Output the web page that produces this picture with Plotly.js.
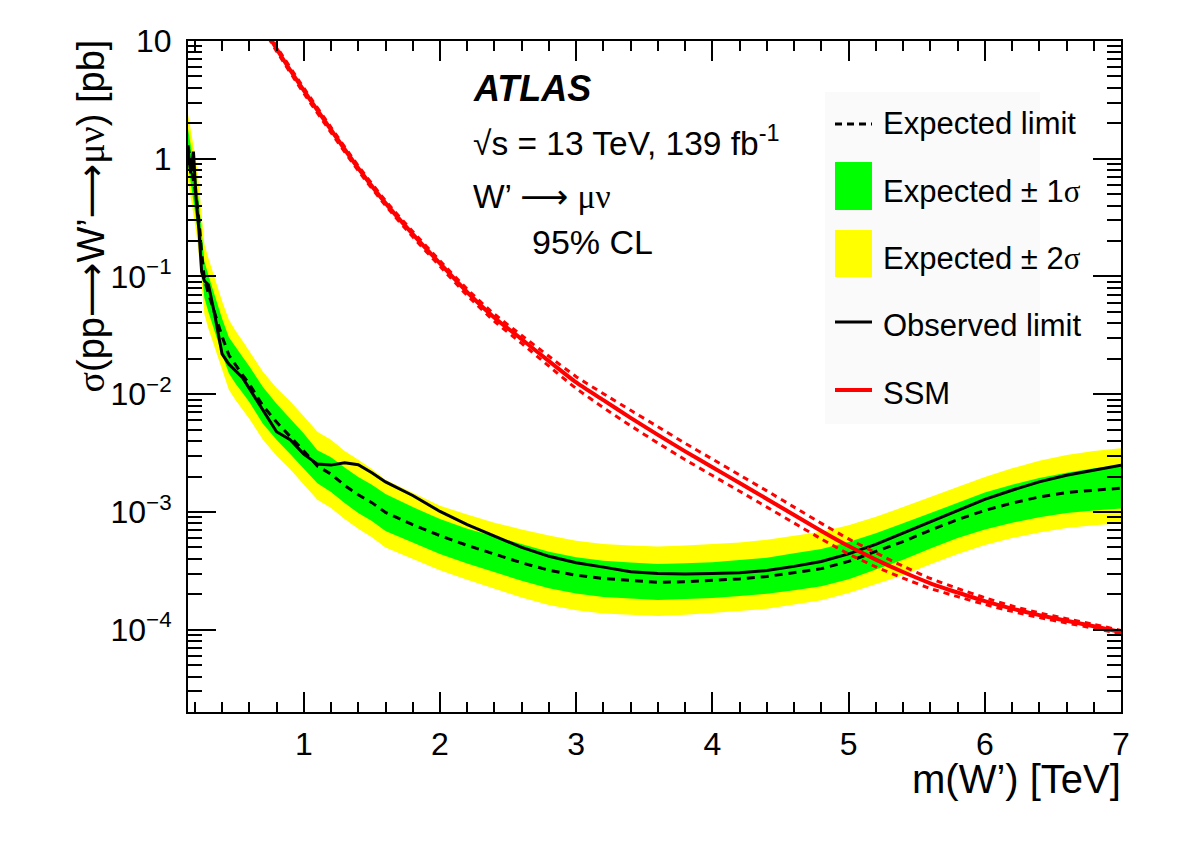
<!DOCTYPE html>
<html>
<head>
<meta charset="utf-8">
<script src="https://cdn.plot.ly/plotly-3.0.1.min.js"></script>
<style>
  html, body { margin: 0; padding: 0; background: #ffffff; }
  #chart { width: 1182px; height: 848px; }
</style>
</head>
<body>
<div id="chart"></div>
<script>
// W' -> mu nu cross-section limits, 95% CL (mass in TeV, sigma x BR in pb)
const mass = [0.15, 0.17, 0.19, 0.21, 0.23, 0.25, 0.27, 0.30, 0.35, 0.40, 0.45, 0.50, 0.55, 0.60,
  0.70, 0.80, 0.90, 1.0, 1.1, 1.2, 1.3, 1.4, 1.5, 1.6, 1.8, 2.0, 2.2, 2.4, 2.6, 2.8, 3.0, 3.2,
  3.4, 3.6, 3.8, 4.0, 4.2, 4.4, 4.6, 4.8, 5.0, 5.2, 5.4, 5.6, 5.8, 6.0, 6.2, 6.4, 6.6, 6.8, 7.0];

const expected = [1.3, 0.9, 0.65, 0.48, 0.30, 0.16, 0.095, 0.072, 0.047, 0.031, 0.0215, 0.0175, 0.0146, 0.0122,
  0.0080, 0.0058, 0.0044, 0.0033, 0.00245, 0.0021, 0.00168, 0.00140, 0.00120, 0.00099, 0.00078, 0.00063, 0.00052, 0.00044, 0.00037, 0.00032, 0.00029, 0.000272,
  0.000262, 0.000253, 0.000255, 0.000261, 0.000270, 0.000283, 0.000305, 0.00033, 0.00038, 0.00046, 0.00056, 0.00070, 0.00086, 0.00103, 0.00119, 0.00134, 0.00146, 0.00153, 0.00159];

const observed = [1.2, 0.75, 1.15, 0.45, 0.25, 0.11, 0.092, 0.085, 0.045, 0.022, 0.018, 0.0158, 0.0138, 0.0112,
  0.0073, 0.0048, 0.0041, 0.0031, 0.00255, 0.00250, 0.00262, 0.00252, 0.00215, 0.00180, 0.00138, 0.00101, 0.00078, 0.00062, 0.00050, 0.00042, 0.00037, 0.00034,
  0.00031, 0.000300, 0.000297, 0.000300, 0.000305, 0.000318, 0.000345, 0.00038, 0.00044, 0.00053, 0.00066, 0.00083, 0.00102, 0.00128, 0.00153, 0.00180, 0.00205, 0.00225, 0.00250];

const minus2Sigma = [0.65, 0.46, 0.33, 0.24, 0.15, 0.08, 0.048, 0.036, 0.024, 0.0157, 0.0109, 0.0089, 0.0074, 0.0062,
  0.0041, 0.0030, 0.0023, 0.00172, 0.00127, 0.00108, 0.00087, 0.00072, 0.00061, 0.00050, 0.00040, 0.00032, 0.000265, 0.000222, 0.000188, 0.000162, 0.000146, 0.000137,
  0.000133, 0.000131, 0.000134, 0.000138, 0.000144, 0.000151, 0.000163, 0.000178, 0.000205, 0.000245, 0.000290, 0.000360, 0.000440, 0.000525, 0.000600, 0.000670, 0.000730, 0.000770, 0.000800];

const minus1Sigma = [0.9, 0.63, 0.46, 0.33, 0.21, 0.112, 0.066, 0.050, 0.033, 0.0218, 0.0151, 0.0123, 0.0103, 0.0086,
  0.0056, 0.0041, 0.0031, 0.00235, 0.00175, 0.00148, 0.00119, 0.00098, 0.00084, 0.00069, 0.00055, 0.00044, 0.000365, 0.000308, 0.000260, 0.000225, 0.000203, 0.000190,
  0.000184, 0.000179, 0.000182, 0.000186, 0.000193, 0.000202, 0.000216, 0.000234, 0.000268, 0.000322, 0.000392, 0.000490, 0.000600, 0.000710, 0.000810, 0.000900, 0.000980, 0.00103, 0.00107];

const plus1Sigma = [1.8, 1.3, 0.93, 0.68, 0.43, 0.23, 0.135, 0.102, 0.067, 0.044, 0.0305, 0.0249, 0.0208, 0.0173,
  0.0115, 0.0083, 0.0062, 0.00465, 0.00335, 0.00292, 0.00238, 0.00198, 0.00170, 0.00142, 0.00110, 0.00087, 0.00072, 0.00062, 0.00053, 0.00046, 0.000412, 0.000385,
  0.000372, 0.000362, 0.000366, 0.000374, 0.000390, 0.000408, 0.000445, 0.000485, 0.000555, 0.00066, 0.00080, 0.00098, 0.00121, 0.00146, 0.00170, 0.00194, 0.00215, 0.00235, 0.00251];

const plus2Sigma = [2.4, 1.8, 1.3, 0.95, 0.60, 0.32, 0.19, 0.143, 0.094, 0.062, 0.043, 0.0345, 0.0285, 0.0232,
  0.0155, 0.0113, 0.0087, 0.0065, 0.0048, 0.0041, 0.0033, 0.00278, 0.00232, 0.00188, 0.00145, 0.00113, 0.00095, 0.00081, 0.00071, 0.00063, 0.00057, 0.000535,
  0.000520, 0.000510, 0.000518, 0.000530, 0.000550, 0.000580, 0.000625, 0.00068, 0.00077, 0.00091, 0.00110, 0.00134, 0.00164, 0.00198, 0.00235, 0.00272, 0.00305, 0.00330, 0.00347];

// Sequential Standard Model W' prediction with its theory uncertainty
const ssmMass = [0.7, 0.8, 1.0, 1.2, 1.4, 1.6, 1.8, 2.0, 2.2, 2.4, 2.6, 2.8, 3.0, 3.2, 3.4, 3.6, 3.8,
  4.0, 4.2, 4.4, 4.6, 4.8, 5.0, 5.2, 5.4, 5.6, 5.8, 6.0, 6.2, 6.4, 6.6, 6.8, 7.0];
const ssmXsec = [13.5, 8.6, 3.8, 1.76, 0.83, 0.42, 0.229, 0.129, 0.0735, 0.0447, 0.0293, 0.0191, 0.0126, 0.0089, 0.0063, 0.00452, 0.00327,
  0.0024, 0.00176, 0.00129, 0.000944, 0.00069, 0.000513, 0.000394, 0.000309, 0.000248, 0.000207, 0.000175, 0.000151, 0.000133, 0.000119, 0.000107, 0.0000955];
const ssmUp = [14.2, 9.0, 4.0, 1.85, 0.87, 0.44, 0.241, 0.136, 0.078, 0.0478, 0.0316, 0.0210, 0.0141, 0.0101, 0.0073, 0.00529, 0.00383,
  0.00281, 0.00206, 0.00151, 0.00110, 0.00080, 0.000590, 0.000450, 0.000346, 0.000273, 0.000224, 0.000187, 0.000159, 0.000139, 0.000124, 0.000111, 0.0000985];
const ssmDown = [12.8, 8.2, 3.6, 1.67, 0.79, 0.40, 0.217, 0.122, 0.069, 0.0416, 0.0270, 0.0173, 0.0112, 0.0077, 0.0054, 0.00385, 0.00278,
  0.00204, 0.00150, 0.00110, 0.000805, 0.000590, 0.000440, 0.000342, 0.000274, 0.000224, 0.000191, 0.000164, 0.000143, 0.000127, 0.000114, 0.000103, 0.0000925];

// Axis ticks
const xTickVals = [1, 2, 3, 4, 5, 6, 7];
const xTickText = ['1', '2', '3', '4', '5', '6', '7'];
const yTickVals = [1e-4, 1e-3, 1e-2, 1e-1, 1, 10];
const yTickText = ['10<sup>\u22124</sup>', '10<sup>\u22123</sup>', '10<sup>\u22122</sup>', '10<sup>\u22121</sup>', '1', '10'];
const yMinorMantissa = [2, 3, 4, 5, 6, 7, 8, 9];
const yMinorDecades = [1e-5, 1e-4, 1e-3, 1e-2, 1e-1, 1];

const yMinorVals = [];
yMinorDecades.forEach(d => yMinorMantissa.forEach(m => yMinorVals.push(m * d)));

const FONT = 'Liberation Sans, Arial, Helvetica, sans-serif';
const YELLOW = '#ffff00';
const GREEN = '#00ff00';
const RED = '#ff0000';

// Greek letters and arrows set in symbol-like faces
const greek = s => '<span style="font-family:Liberation Serif">' + s + '</span>';
const arrow = '<span style="font-family:DejaVu Sans">\u27f6</span>';

// Page and frame geometry (pixels)
const W = 1182, H = 848;
const M = { l: 188, r: 61, t: 41, b: 136 };
const PW = W - M.l - M.r, PH = H - M.t - M.b;
const px = x => (x - M.l) / PW;
const py = y => (H - M.b - y) / PH;

const traces = [
  { x: mass, y: minus2Sigma, type: 'scatter', mode: 'lines', line: { width: 0, color: YELLOW }, hoverinfo: 'skip', showlegend: false },
  { x: mass, y: plus2Sigma, type: 'scatter', mode: 'lines', fill: 'tonexty', fillcolor: YELLOW, line: { width: 0, color: YELLOW }, showlegend: false },
  { x: mass, y: minus1Sigma, type: 'scatter', mode: 'lines', line: { width: 0, color: GREEN }, showlegend: false },
  { x: mass, y: plus1Sigma, type: 'scatter', mode: 'lines', fill: 'tonexty', fillcolor: GREEN, line: { width: 0, color: GREEN }, showlegend: false },
  { x: mass, y: expected, type: 'scatter', mode: 'lines', line: { color: '#000000', width: 3, dash: '8px,6px' }, showlegend: false },
  { x: mass, y: observed, type: 'scatter', mode: 'lines', line: { color: '#000000', width: 3 }, showlegend: false },
  { x: ssmMass, y: ssmUp, type: 'scatter', mode: 'lines', line: { color: RED, width: 3, dash: '6px,5px', shape: 'spline', smoothing: 0.6 }, showlegend: false },
  { x: ssmMass, y: ssmDown, type: 'scatter', mode: 'lines', line: { color: RED, width: 3, dash: '6px,5px', shape: 'spline', smoothing: 0.6 }, showlegend: false },
  { x: ssmMass, y: ssmXsec, type: 'scatter', mode: 'lines', line: { color: RED, width: 4, shape: 'spline', smoothing: 0.6 }, showlegend: false }
];

// Hand-built legend: symbols as shapes, labels as annotations
const legX0 = 835, legX1 = 872, legText = 881;
const legRows = [124, 191, 258, 325, 393];
const legLabels = ['Expected limit', 'Expected \u00b1 1' + greek('\u03c3'), 'Expected \u00b1 2' + greek('\u03c3'), 'Observed limit', 'SSM'];

const shapes = [
  { type: 'rect', xref: 'paper', yref: 'paper', x0: px(825), x1: px(1040), y0: py(92), y1: py(424), fillcolor: '#fafafa', line: { width: 0 }, layer: 'below' },
  { type: 'line', xref: 'paper', yref: 'paper', x0: px(legX0), x1: px(legX1), y0: py(legRows[0]), y1: py(legRows[0]), line: { color: '#000', width: 3, dash: '7px,5px' } },
  { type: 'rect', xref: 'paper', yref: 'paper', x0: px(legX0), x1: px(legX1), y0: py(210), y1: py(162), fillcolor: GREEN, line: { width: 0 } },
  { type: 'rect', xref: 'paper', yref: 'paper', x0: px(legX0), x1: px(legX1), y0: py(277), y1: py(230), fillcolor: YELLOW, line: { width: 0 } },
  { type: 'line', xref: 'paper', yref: 'paper', x0: px(legX0), x1: px(legX1), y0: py(legRows[3] - 3), y1: py(legRows[3] - 3), line: { color: '#000', width: 3 } },
  { type: 'line', xref: 'paper', yref: 'paper', x0: px(legX0), x1: px(legX1), y0: py(legRows[4] - 3), y1: py(legRows[4] - 3), line: { color: RED, width: 4 } }
];

const annotations = legLabels.map((t, i) => ({
  text: t, xref: 'paper', yref: 'paper', x: px(legText), y: py(legRows[i]),
  xanchor: 'left', yanchor: 'middle', showarrow: false, font: { family: FONT, size: 31, color: '#000' }
}));

annotations.push(
  { text: 'ATLAS', xref: 'paper', yref: 'paper', x: px(471), y: py(89), xanchor: 'left', yanchor: 'middle', showarrow: false,
    font: { family: FONT, size: 36, color: '#000', weight: 'bold', style: 'italic' } },
  { text: '\u221as = 13 TeV, 139 fb<sup>-1</sup>', xref: 'paper', yref: 'paper', x: px(471), y: py(141), xanchor: 'left', yanchor: 'middle', showarrow: false,
    font: { family: FONT, size: 33.5, color: '#000' } },
  { text: 'W\u2019 ' + arrow + ' ' + greek('\u03bc\u03bd'), xref: 'paper', yref: 'paper', x: px(471), y: py(197), xanchor: 'left', yanchor: 'middle', showarrow: false,
    font: { family: FONT, size: 33.5, color: '#000' } },
  { text: '95% CL', xref: 'paper', yref: 'paper', x: px(530), y: py(242), xanchor: 'left', yanchor: 'middle', showarrow: false,
    font: { family: FONT, size: 34, color: '#000' } },
  { text: 'm(W\u2019) [TeV]', xref: 'paper', yref: 'paper', x: px(1123), y: py(779), xanchor: 'right', yanchor: 'middle', showarrow: false,
    font: { family: FONT, size: 40, color: '#000' } },
  { text: greek('\u03c3') + '(pp' + arrow + 'W\u2019' + arrow + greek('\u03bc\u03bd') + ') [pb]', xref: 'paper', yref: 'paper',
    x: px(90), y: py(38), xanchor: 'center', yanchor: 'top', showarrow: false,
    textangle: -90, font: { family: FONT, size: 38, color: '#000' } }
);

const layout = {
  width: W, height: H,
  margin: M,
  paper_bgcolor: '#ffffff', plot_bgcolor: '#ffffff',
  font: { family: FONT, size: 32, color: '#000' },
  showlegend: false,
  xaxis: {
    range: [0.15, 7], tickmode: 'array', tickvals: xTickVals, ticktext: xTickText,
    ticks: 'inside', ticklen: 20, tickwidth: 2, tickcolor: '#000',
    showline: true, linewidth: 2, linecolor: '#000', mirror: 'allticks',
    showgrid: false, zeroline: false, tickfont: { family: FONT, size: 32 }, ticklabelstandoff: 3,
    minor: { ticks: 'inside', dtick: 0.2, tick0: 0, ticklen: 10, tickwidth: 2, tickcolor: '#000', showgrid: false }
  },
  yaxis: {
    type: 'log', range: [Math.log10(2e-5), 1], tickmode: 'array', tickvals: yTickVals, ticktext: yTickText,
    ticks: 'inside', ticklen: 28, tickwidth: 2, tickcolor: '#000',
    showline: true, linewidth: 2, linecolor: '#000', mirror: 'allticks',
    showgrid: false, zeroline: false, tickfont: { family: FONT, size: 32 }, ticklabelstandoff: 8,
    minor: { ticks: 'inside', tickmode: 'array', tickvals: yMinorVals, ticklen: 14, tickwidth: 2, tickcolor: '#000', showgrid: false }
  },
  shapes: shapes,
  annotations: annotations
};

Plotly.newPlot('chart', traces, layout, { staticPlot: true, displayModeBar: false });
</script>
</body>
</html>
